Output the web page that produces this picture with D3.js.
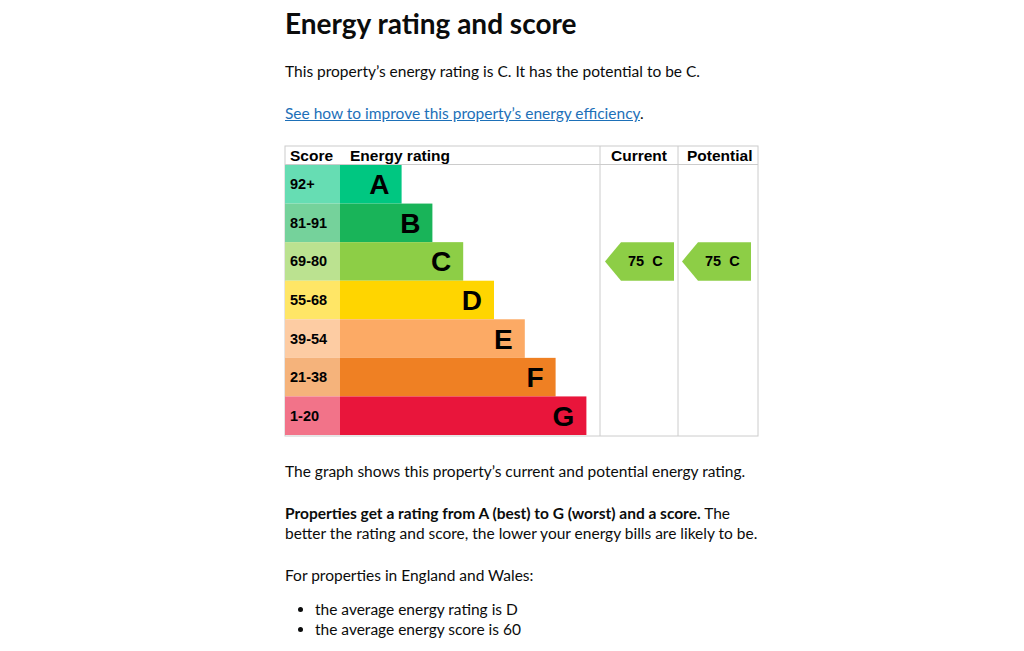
<!DOCTYPE html>
<html><head><meta charset="utf-8">
<script src="https://cdn.jsdelivr.net/npm/d3@7"></script>
<style>
body{margin:0;font-family:Lato,"Noto Sans",Arial,sans-serif;color:#0b0c0c;background:#fff}
#page{position:absolute;left:285px;top:0;width:480px}
h1{font-size:28px;font-weight:700;margin:6px 0 0 0;line-height:34px}
p{font-size:15.5px;margin:0;line-height:20px}
a{color:#1d70b8}
ul{margin:0;padding-left:30px;font-size:15.5px;line-height:20px}
</style></head><body>
<div id="page">
<h1>Energy rating and score</h1>
<p style="margin-top:21px">This property’s energy rating is C. It has the potential to be C.</p>
<p style="margin-top:22px"><a href="#">See how to improve this property’s energy efficiency</a>.</p>
<div id="dchart" style="margin-top:22px;margin-left:-1px"></div>
<p style="margin-top:21px">The graph shows this property’s current and potential energy rating.</p>
<p style="margin-top:22px"><b>Properties get a rating from A (best) to G (worst) and a score.</b> The better the rating and score, the lower your energy bills are likely to be.</p>
<p style="margin-top:22px">For properties in England and Wales:</p>
<ul style="margin-top:14px"><li>the average energy rating is D</li><li>the average energy score is 60</li></ul>
</div>
<script>
const bands = ["A","B","C","D","E","F","G"];
const scores = ["92+","81-91","69-80","55-68","39-54","21-38","1-20"];
const barColors = ["#00c781","#19b459","#8dce46","#ffd500","#fcaa65","#ef8023","#e9153b"];
const scoreColors = ["#66ddb3","#75d29b","#bbe290","#ffe666","#fdcca3","#f5b37b","#f27389"];
const current = {score:75, band:"C"};
const potential = {score:75, band:"C"};

const W = 476, H = 292, headH = 20;
const svg = d3.select("#dchart").append("svg").attr("width", W).attr("height", H)
  .style("font-family","Arial,'Liberation Sans',sans-serif");
const y = d3.scaleBand().domain(bands).range([headH, H-2]);
const x = d3.scaleLinear().domain([0, bands.length]).range([56, 56+30.8*bands.length]);

svg.append("rect").attr("x",1).attr("y",1).attr("width",473).attr("height",H-2)
  .attr("fill","none").attr("stroke","#ccc");
svg.append("line").attr("x1",1).attr("x2",474).attr("y1",headH-0.5).attr("y2",headH-0.5).attr("stroke","#ccc");
[316,394].forEach(c=>svg.append("line").attr("x1",c).attr("x2",c).attr("y1",1).attr("y2",H-1).attr("stroke","#ccc"));
[["Score",6],["Energy rating",66],["Current",327],["Potential",403]].forEach(([t,px])=>
  svg.append("text").attr("x",px).attr("y",16).attr("font-size",15.5).attr("font-weight",700).text(t));

const g = svg.selectAll(".band").data(bands).join("g");
g.append("rect").attr("x",1).attr("y",d=>y(d)).attr("width",55).attr("height",y.bandwidth())
  .attr("fill",(d,i)=>scoreColors[i]);
g.append("text").attr("x",6).attr("y",d=>y(d)+y.bandwidth()/2+5).attr("font-size",14.5)
  .attr("font-weight",700).text((d,i)=>scores[i]);
g.append("rect").attr("x",56).attr("y",d=>y(d)).attr("width",(d,i)=>x(i+2)-x(0)).attr("height",y.bandwidth())
  .attr("fill",(d,i)=>barColors[i]);
g.append("text").attr("x",(d,i)=>x(i+2)-12).attr("y",d=>y(d)+y.bandwidth()/2+10).attr("text-anchor","end")
  .attr("font-size",28).attr("font-weight",700).text(d=>d);

function arrow(r, x0, x1){
  const t=y(r.band), h=y.bandwidth(), c=barColors[bands.indexOf(r.band)];
  svg.append("path").attr("d",`M${x0},${t+h/2}L${x0+16},${t}L${x1},${t}L${x1},${t+h}L${x0+16},${t+h}Z`).attr("fill",c);
  svg.append("text").attr("x",x0+23).attr("y",t+h/2+5).attr("font-size",14.5).attr("font-weight",700)
    .text(r.score+"  "+r.band).attr("xml:space","preserve");
}
arrow(current, 321, 390);
arrow(potential, 398, 467);
</script>
</body></html>
